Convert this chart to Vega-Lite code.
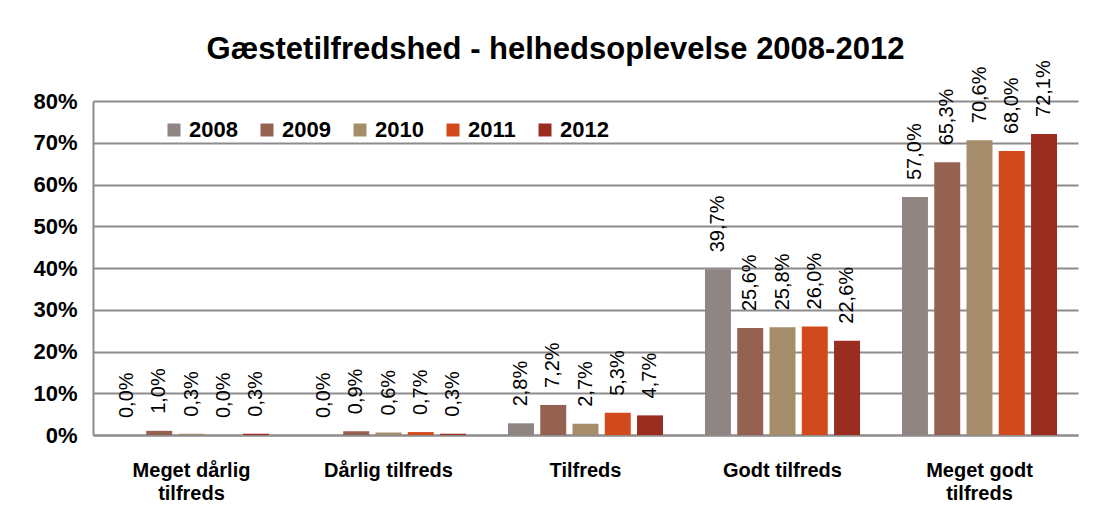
{
  "$schema": "https://vega.github.io/schema/vega-lite/v6.json",
  "autosize": "none",
  "width": 985,
  "height": 334,
  "padding": {"left": 93, "top": 101, "right": 15, "bottom": 80},
  "background": "white",
  "config": {
    "locale": {"number": {"decimal": ",", "thousands": ".", "grouping": [3], "currency": ["", " kr."]}},
    "font": "Liberation Sans",
    "view": {"stroke": null}
  },
  "title": {
    "text": "Gæstetilfredshed - helhedsoplevelse 2008-2012",
    "font": "Liberation Sans",
    "fontSize": 31,
    "fontWeight": "bold",
    "color": "black",
    "frame": "bounds",
    "anchor": "middle",
    "offset": 0,
    "dy": 6
  },
  "data": {
    "values": [
      {"kategori": "Meget dårlig tilfreds", "år": "2008", "andel": 0.000},
      {"kategori": "Meget dårlig tilfreds", "år": "2009", "andel": 0.010},
      {"kategori": "Meget dårlig tilfreds", "år": "2010", "andel": 0.003},
      {"kategori": "Meget dårlig tilfreds", "år": "2011", "andel": 0.000},
      {"kategori": "Meget dårlig tilfreds", "år": "2012", "andel": 0.003},
      {"kategori": "Dårlig tilfreds", "år": "2008", "andel": 0.000},
      {"kategori": "Dårlig tilfreds", "år": "2009", "andel": 0.009},
      {"kategori": "Dårlig tilfreds", "år": "2010", "andel": 0.006},
      {"kategori": "Dårlig tilfreds", "år": "2011", "andel": 0.007},
      {"kategori": "Dårlig tilfreds", "år": "2012", "andel": 0.003},
      {"kategori": "Tilfreds", "år": "2008", "andel": 0.028},
      {"kategori": "Tilfreds", "år": "2009", "andel": 0.072},
      {"kategori": "Tilfreds", "år": "2010", "andel": 0.027},
      {"kategori": "Tilfreds", "år": "2011", "andel": 0.053},
      {"kategori": "Tilfreds", "år": "2012", "andel": 0.047},
      {"kategori": "Godt tilfreds", "år": "2008", "andel": 0.397},
      {"kategori": "Godt tilfreds", "år": "2009", "andel": 0.256},
      {"kategori": "Godt tilfreds", "år": "2010", "andel": 0.258},
      {"kategori": "Godt tilfreds", "år": "2011", "andel": 0.260},
      {"kategori": "Godt tilfreds", "år": "2012", "andel": 0.226},
      {"kategori": "Meget godt tilfreds", "år": "2008", "andel": 0.570},
      {"kategori": "Meget godt tilfreds", "år": "2009", "andel": 0.653},
      {"kategori": "Meget godt tilfreds", "år": "2010", "andel": 0.706},
      {"kategori": "Meget godt tilfreds", "år": "2011", "andel": 0.680},
      {"kategori": "Meget godt tilfreds", "år": "2012", "andel": 0.721}
    ]
  },
  "encoding": {
    "x": {
      "field": "kategori",
      "type": "nominal",
      "sort": null,
      "scale": {"paddingInner": 0.213, "paddingOuter": 0.1065},
      "axis": {
        "title": null,
        "labelAngle": 0,
        "labelFont": "Liberation Sans",
        "labelFontSize": 20,
        "labelFontWeight": "bold",
        "labelColor": "black",
        "labelPadding": 35,
        "labelLineHeight": 23,
        "labelBaseline": "middle",
        "labelExpr": "datum.value == 'Meget dårlig tilfreds' ? ['Meget dårlig', 'tilfreds'] : datum.value == 'Meget godt tilfreds' ? ['Meget godt', 'tilfreds'] : datum.value",
        "ticks": false,
        "domainColor": "#8c8c8c",
        "domainWidth": 2,
        "grid": false
      }
    },
    "xOffset": {
      "field": "år",
      "type": "nominal",
      "scale": {"paddingInner": 0.195, "paddingOuter": 0}
    },
    "y": {
      "field": "andel",
      "type": "quantitative",
      "scale": {"domain": [0, 0.8], "nice": false},
      "axis": {
        "title": null,
        "format": ".0%",
        "values": [0, 0.1, 0.2, 0.3, 0.4, 0.5, 0.6, 0.7, 0.8],
        "labelFont": "Liberation Sans",
        "labelFontSize": 22,
        "labelFontWeight": "bold",
        "labelColor": "black",
        "labelPadding": 16,
        "ticks": false,
        "domainColor": "#8c8c8c",
        "domainWidth": 2,
        "grid": true,
        "gridColor": "#8c8c8c",
        "gridWidth": 2
      }
    }
  },
  "layer": [
    {
      "mark": {"type": "bar"},
      "encoding": {
        "color": {
          "field": "år",
          "type": "nominal",
          "scale": {
            "domain": ["2008", "2009", "2010", "2011", "2012"],
            "range": ["#8f8583", "#956251", "#a58d6b", "#d24a1c", "#9b2d20"]
          },
          "legend": {
            "title": null,
            "orient": "none",
            "direction": "horizontal",
            "legendX": 70,
            "legendY": 18,
            "symbolType": "square",
            "symbolSize": 169,
            "symbolStrokeWidth": 0,
            "labelFont": "Liberation Sans",
            "labelFontSize": 22,
            "labelFontWeight": "bold",
            "labelColor": "black",
            "labelOffset": 4,
            "columnPadding": 18
          }
        }
      }
    },
    {
      "mark": {"type": "text", "angle": 270, "align": "left", "baseline": "middle", "dx": 17, "fontSize": 20, "font": "Liberation Sans", "color": "black"},
      "encoding": {
        "text": {"field": "andel", "type": "quantitative", "format": ".1%"}
      }
    }
  ]
}
